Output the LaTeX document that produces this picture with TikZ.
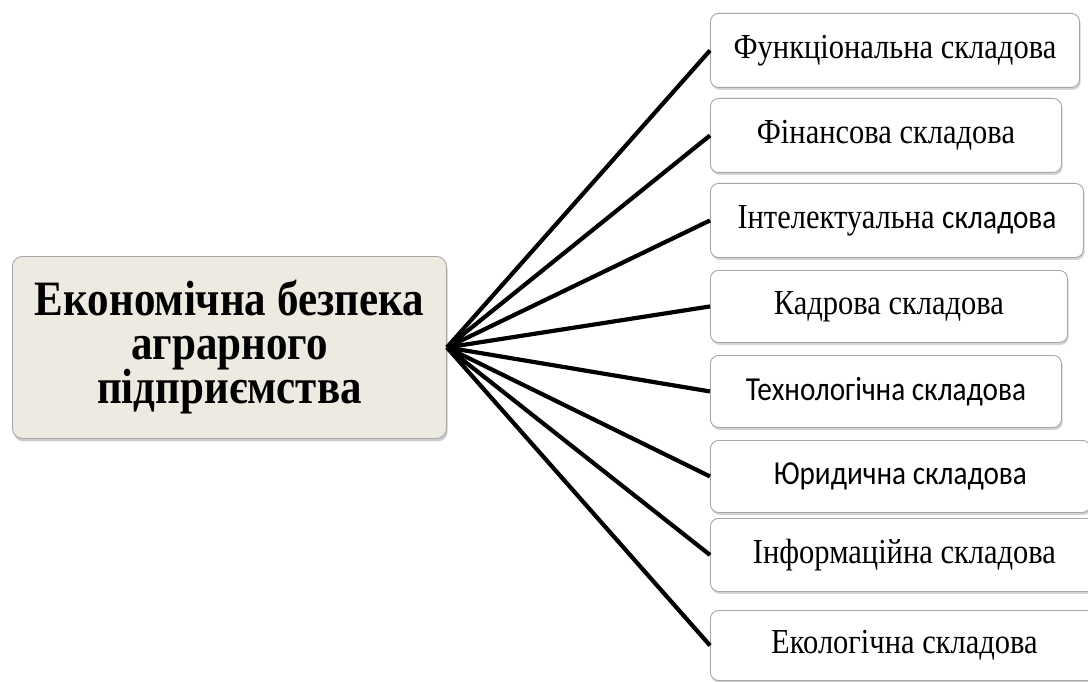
\documentclass[tikz,border=0pt]{standalone}
\usepackage{fontspec}
\setmainfont{Liberation Serif}
\newfontfamily\carlito{Carlito}
\usetikzlibrary{shadows}
\newcommand\lbl[1]{\scalebox{1}[1.15]{#1}}
\begin{document}
\begin{tikzpicture}[x=1pt,y=-1pt,
  comp/.style={draw=gray!70, line width=0.9pt, rounded corners=8pt, fill=white,
    drop shadow={shadow xshift=1.2pt, shadow yshift=-2.5pt, opacity=0.35},
    anchor=north west, inner sep=0pt, font=\fontsize{30.5}{36}\selectfont},
  hubbox/.style={draw=gray!70, line width=0.9pt, rounded corners=10pt, fill=hubfill,
    drop shadow={shadow xshift=1.2pt, shadow yshift=-3pt, opacity=0.4},
    anchor=north west, inner sep=0pt},
  link/.style={line width=4.2pt}]
\definecolor{hubfill}{HTML}{EDEAE1}
\useasboundingbox (0,0) rectangle (1088,682);
\node[hubbox, minimum width=434pt, minimum height=182pt] (hub) at (12,256)
  {\scalebox{1}[1.15]{\begin{minipage}{430pt}\centering\bfseries\fontsize{43}{38.3}\selectfont\lineskiplimit=-\maxdimen
   Економічна безпека\\аграрного\\підприємства\end{minipage}}};
\node[comp, minimum width=369pt, minimum height=74pt] (c1) at (710,13) {\lbl{Функціональна складова}};
\node[comp, minimum width=351pt, minimum height=74pt] (c2) at (710,98) {\lbl{Фінансова складова}};
\node[comp, minimum width=373pt, minimum height=74pt] (c3) at (710,183) {\lbl{Інтелектуальна {\carlito\fontsize{29.2}{36}\selectfont складова}}};
\node[comp, minimum width=357pt, minimum height=72pt] (c4) at (710,270) {\lbl{Кадрова складова}};
\node[comp, minimum width=351pt, minimum height=72pt, font=\carlito\fontsize{29.2}{36}\selectfont] (c5) at (710,355) {\lbl{Технологічна складова}};
\node[comp, minimum width=380pt, minimum height=72pt, font=\carlito\fontsize{29.2}{36}\selectfont] (c6) at (710,440) {\lbl{Юридична складова}};
\node[comp, minimum width=388pt, minimum height=73pt] (c7) at (710,518) {\lbl{Інформаційна складова}};
\node[comp, minimum width=388pt, minimum height=70pt] (c8) at (710,610) {\lbl{Екологічна складова}};
\foreach \i in {1,...,8} {\draw[link] (hub.east) -- (c\i.west);}
\end{tikzpicture}
\end{document}
